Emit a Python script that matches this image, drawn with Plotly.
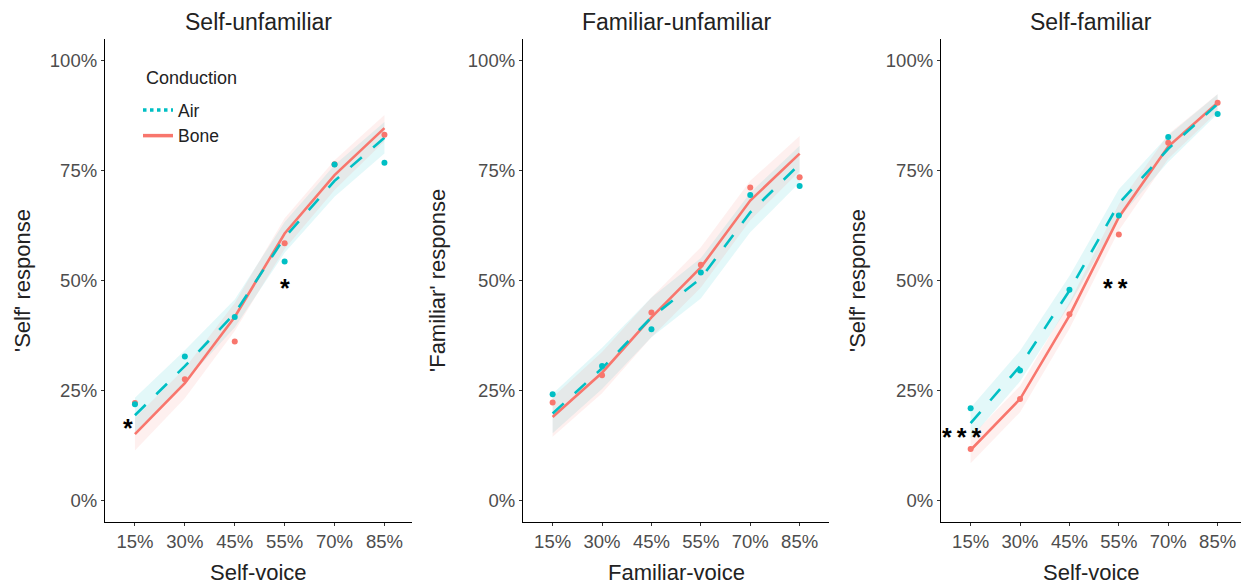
import plotly.graph_objects as go

W, H = 1241, 584

levels = ["15%", "30%", "45%", "55%", "70%", "85%"]

panel_titles = ["Self-unfamiliar", "Familiar-unfamiliar", "Self-familiar"]
x_titles = ["Self-voice", "Familiar-voice", "Self-voice"]
y_titles = ["'Self' response", "'Familiar' response", "'Self' response"]
legend_title = "Conduction"

# Panel 1: Self-unfamiliar
su_air_pts = [0.218, 0.327, 0.417, 0.543, 0.764, 0.768]
su_bone_pts = [0.221, 0.275, 0.361, 0.585, 0.765, 0.832]
su_air_fit = [0.193, 0.305, 0.425, 0.598, 0.727, 0.825]
su_bone_fit = [0.150, 0.266, 0.417, 0.607, 0.740, 0.847]
su_air_ci = [0.040, 0.036, 0.032, 0.035, 0.036, 0.036]
su_bone_ci = [0.037, 0.034, 0.032, 0.035, 0.034, 0.030]

# Panel 2: Familiar-unfamiliar
fu_air_pts = [0.241, 0.305, 0.389, 0.518, 0.695, 0.715]
fu_bone_pts = [0.222, 0.284, 0.427, 0.536, 0.712, 0.735]
fu_air_fit = [0.197, 0.300, 0.416, 0.505, 0.655, 0.765]
fu_bone_fit = [0.189, 0.290, 0.416, 0.530, 0.682, 0.789]
fu_air_ci = [0.045, 0.047, 0.045, 0.046, 0.045, 0.042]
fu_bone_ci = [0.045, 0.047, 0.045, 0.046, 0.045, 0.040]

# Panel 3: Self-familiar
sf_air_pts = [0.209, 0.295, 0.479, 0.648, 0.827, 0.879]
sf_bone_pts = [0.116, 0.230, 0.423, 0.605, 0.814, 0.905]
sf_air_fit = [0.175, 0.305, 0.477, 0.675, 0.800, 0.902]
sf_bone_fit = [0.114, 0.230, 0.420, 0.644, 0.805, 0.905]
sf_air_ci = [0.035, 0.035, 0.033, 0.033, 0.030, 0.022]
sf_bone_ci = [0.030, 0.030, 0.030, 0.030, 0.028, 0.020]

# significance markers
sig_panel = [0, 0, 2, 2]
sig_level = ["15%", "55%", "15%", "55%"]
sig_y = [0.165, 0.482, 0.143, 0.482]
sig_text = ["*", "*", "***", "**"]
sig_shift = [-7, 0, -9, -3]

panels = [
    (su_air_pts, su_bone_pts, su_air_fit, su_bone_fit, su_air_ci, su_bone_ci),
    (fu_air_pts, fu_bone_pts, fu_air_fit, fu_bone_fit, fu_air_ci, fu_bone_ci),
    (sf_air_pts, sf_bone_pts, sf_air_fit, sf_bone_fit, sf_air_ci, sf_bone_ci),
]

AIR = "#00BFC4"
BONE = "#F8766D"
AIR_FILL = "rgba(0,191,196,0.11)"
BONE_FILL = "rgba(248,118,109,0.11)"
FONT = "Liberation Sans, Arial, sans-serif"

# pixel geometry
x_left = [105, 523, 941]
x_right = [412, 829, 1241]
unit_px = [49.9, 49.4, 49.4]
y_top, y_bot = 39, 522

fig = go.Figure()

for i, (ap, bp, af, bf, aci, bci) in enumerate(panels):
    xa = "x" if i == 0 else f"x{i+1}"
    ya = "y" if i == 0 else f"y{i+1}"
    for fit, ci, fill in ((af, aci, AIR_FILL), (bf, bci, BONE_FILL)):
        upper = [f + c for f, c in zip(fit, ci)]
        lower = [f - c for f, c in zip(fit, ci)]
        fig.add_trace(go.Scatter(
            x=levels + levels[::-1], y=upper + lower[::-1],
            fill="toself", fillcolor=fill, line=dict(width=0),
            mode="lines", hoverinfo="skip", showlegend=False,
            xaxis=xa, yaxis=ya))
    fig.add_trace(go.Scatter(x=[-0.6, 6.0], y=[0.5, 0.5], mode="lines",
                             line=dict(color="#b3b3b3", width=1, dash="dash"),
                             hoverinfo="skip", showlegend=False,
                             xaxis=xa, yaxis=ya))
    fig.add_trace(go.Scatter(x=levels, y=bf, mode="lines",
                             line=dict(color=BONE, width=2.6),
                             showlegend=False, xaxis=xa, yaxis=ya))
    fig.add_trace(go.Scatter(x=levels, y=af, mode="lines",
                             line=dict(color=AIR, width=2.6, dash="longdash"),
                             showlegend=False, xaxis=xa, yaxis=ya))
    fig.add_trace(go.Scatter(x=levels, y=bp, mode="markers",
                             marker=dict(color=BONE, size=6),
                             showlegend=False, xaxis=xa, yaxis=ya))
    fig.add_trace(go.Scatter(x=levels, y=ap, mode="markers",
                             marker=dict(color=AIR, size=6),
                             showlegend=False, xaxis=xa, yaxis=ya))

# legend-only entries
fig.add_trace(go.Scatter(x=[None], y=[None], mode="lines", name="Air",
                         line=dict(color=AIR, width=3.5, dash="dot")))
fig.add_trace(go.Scatter(x=[None], y=[None], mode="lines", name="Bone",
                         line=dict(color=BONE, width=3.5)))

layout = dict(
    width=W, height=H, margin=dict(l=0, r=0, t=0, b=0),
    paper_bgcolor="white", plot_bgcolor="white",
    font=dict(family=FONT, color="#333333"),
    legend=dict(
        x=138 / W, y=1 - 92 / H, xanchor="left", yanchor="top",
        bgcolor="rgba(0,0,0,0)", font=dict(size=17.5, color="#222222"),
        tracegroupgap=0, itemwidth=30),
    showlegend=True,
)

annotations = [dict(text=legend_title, x=144 / W, y=1 - 78 / H,
                    xref="paper", yref="paper", showarrow=False,
                    xanchor="left", yanchor="middle",
                    font=dict(size=18, color="#222222", family=FONT))]
for i in range(3):
    xk = "xaxis" if i == 0 else f"xaxis{i+1}"
    yk = "yaxis" if i == 0 else f"yaxis{i+1}"
    xa = "x" if i == 0 else f"x{i+1}"
    ya = "y" if i == 0 else f"y{i+1}"
    left, right = x_left[i], x_right[i]
    span_units = (right - left) / unit_px[i]
    layout[xk] = dict(
        domain=[left / W, right / W], anchor=ya,
        type="category", categoryorder="array", categoryarray=levels,
        range=[-0.6, -0.6 + span_units],
        showline=True, linecolor="black", linewidth=1.3,
        ticks="outside", ticklen=3, tickcolor="#333333",
        tickfont=dict(size=18.5, color="#4d4d4d", family=FONT),
        showgrid=False, zeroline=False, fixedrange=True)
    layout[yk] = dict(
        domain=[1 - y_bot / H, 1 - y_top / H], anchor=xa,
        range=[-0.05, 1.05],
        tickvals=[0, 0.25, 0.5, 0.75, 1.0], tickformat=".0%",
        showline=True, linecolor="black", linewidth=1.3,
        ticks="outside", ticklen=3, tickcolor="#333333",
        tickfont=dict(size=18.5, color="#4d4d4d", family=FONT),
        showgrid=False, zeroline=False, fixedrange=True)
    cx = (left + right) / 2 / W
    annotations.append(dict(text=panel_titles[i], x=cx, y=1 - 22 / H,
                            xref="paper", yref="paper", showarrow=False,
                            xanchor="center", yanchor="middle",
                            font=dict(size=23, color="#222222", family=FONT)))
    annotations.append(dict(text=x_titles[i], x=cx, y=1 - 572 / H,
                            xref="paper", yref="paper", showarrow=False,
                            xanchor="center", yanchor="middle",
                            font=dict(size=22, color="#222222", family=FONT)))
    ytx = [22, 437, 857][i]
    annotations.append(dict(text=y_titles[i], x=ytx / W, y=1 - 281 / H,
                            xref="paper", yref="paper", showarrow=False,
                            textangle=-90, xanchor="center", yanchor="middle",
                            font=dict(size=22, color="#222222", family=FONT)))

for p, lv, yv, t, sh in zip(sig_panel, sig_level, sig_y, sig_text, sig_shift):
    xa = "x" if p == 0 else f"x{p+1}"
    ya = "y" if p == 0 else f"y{p+1}"
    spaced = "\u2009".join(t)
    annotations.append(dict(text="<b>" + spaced + "</b>", x=lv, y=yv,
                            xref=xa, yref=ya,
                            showarrow=False, xshift=sh,
                            xanchor="center", yanchor="middle",
                            font=dict(size=25, color="black", family=FONT)))

layout["annotations"] = annotations
fig.update_layout(**layout)
fig.write_html("out.html")
